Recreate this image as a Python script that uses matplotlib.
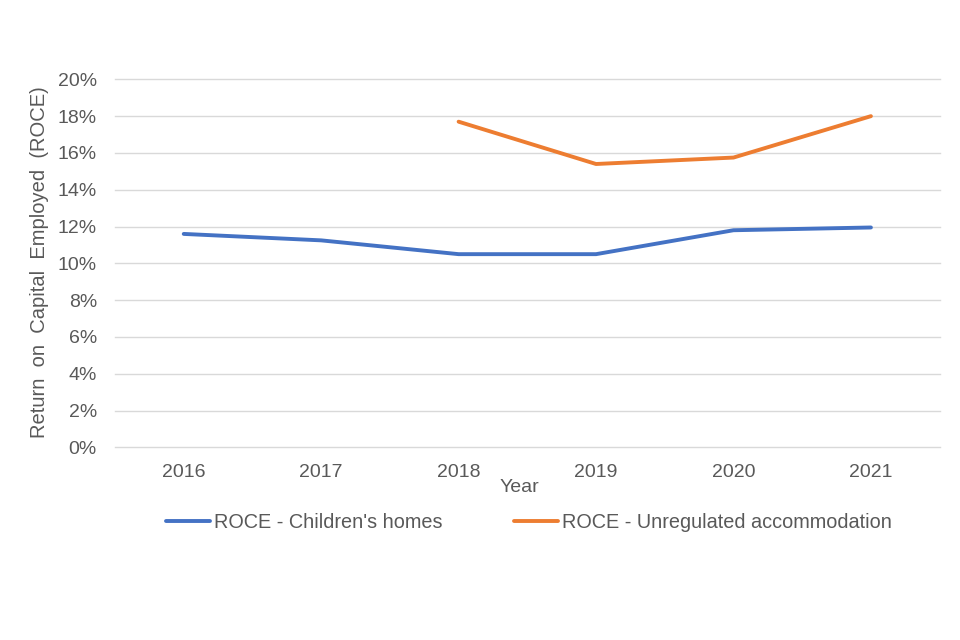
import matplotlib
matplotlib.use("Agg")
import matplotlib.pyplot as plt
from matplotlib.ticker import PercentFormatter
import numpy as np

years = ["2016", "2017", "2018", "2019", "2020", "2021"]
homes = [0.116, 0.1125, 0.105, 0.105, 0.118, 0.1195]
unreg_years = ["2018", "2019", "2020", "2021"]
unreg = [0.177, 0.154, 0.1575, 0.180]

plt.rcParams["font.family"] = ["Liberation Sans", "DejaVu Sans"]
txt = "#595959"

fig = plt.figure(figsize=(9.6, 6.4), dpi=100)
ax = fig.add_axes([0.1198, 0.301, 0.859, 0.575])

x = np.arange(len(years))
xu = [years.index(y) for y in unreg_years]
ax.plot(x, homes, color="#4472C4", lw=2.8, solid_capstyle="round",
        label="ROCE - Children's homes")
ax.plot(xu, unreg, color="#ED7D31", lw=2.8, solid_capstyle="round",
        label="ROCE - Unregulated accommodation")

ax.set_xlim(-0.5, len(years) - 0.5)
ax.set_ylim(0, 0.20)
ax.set_yticks(np.arange(0, 0.201, 0.02))
ax.yaxis.set_major_formatter(PercentFormatter(1.0, decimals=0))
ax.set_xticks(x)
ax.set_xticklabels(years)
ax.tick_params(axis="both", length=0, labelsize=14, colors=txt)
ax.tick_params(axis="x", pad=12)
ax.tick_params(axis="y", pad=13)
ax.grid(axis="y", color="#D9D9D9", lw=1.0)
for gl in ax.get_ygridlines():
    gl.set_clip_on(False)
ax.set_axisbelow(True)
for s in ax.spines.values():
    s.set_visible(False)

fig.text(40 / 960, 1 - 262 / 640, "Return  on  Capital  Employed  (ROCE)",
         rotation=90, ha="center", va="center", fontsize=14.5, color=txt)
ax.text(0.491, -0.11, "Year", transform=ax.transAxes, ha="center", va="center",
        fontsize=14, color=txt)

ax.legend(loc="center", bbox_to_anchor=(0.502, -0.204), ncol=2, frameon=False,
          fontsize=14.3, labelcolor=txt, handlelength=2.2, handletextpad=0.2,
          columnspacing=3.6)

fig.savefig("out.png", dpi=100)
